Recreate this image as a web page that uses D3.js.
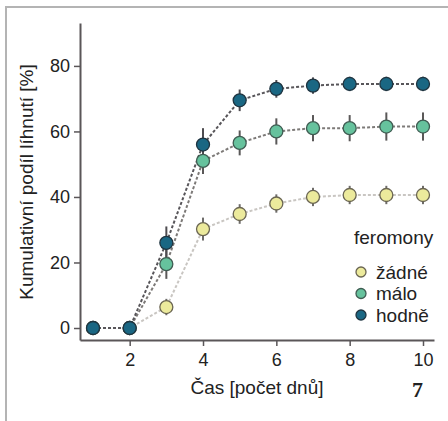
<!DOCTYPE html>
<html>
<head>
<meta charset="utf-8">
<script src="https://cdn.jsdelivr.net/npm/d3@7"></script>
<style>
  body { margin: 0; background: #fff; }
  text { font-family: "Liberation Sans", Arial, sans-serif; }
</style>
</head>
<body>
<div id="chart"></div>
<script>
const width = 448;
const height = 421;

// Data
const days = [1, 2, 3, 4, 5, 6, 7, 8, 9, 10];
const groups = ["žádné", "málo", "hodně"];
const zadne = [0, 0, 6.4, 30.2, 34.8, 38, 40, 40.6, 40.6, 40.6];
const zadneErr = [0, 0, 2.5, 3.5, 3, 2.8, 2.8, 2.8, 2.8, 2.8];
const malo = [0, 0, 19.5, 51, 56.5, 60, 61, 61, 61.5, 61.5];
const maloErr = [0, 0, 4.5, 4, 3.8, 4, 4, 4, 4.3, 4.3];
const hodne = [0, 0, 26, 56, 69.5, 73, 74, 74.5, 74.5, 74.5];
const hodneErr = [0, 0, 5, 5, 3.3, 2.7, 2.5, 2.2, 2.2, 2.2];
const yTicks = [0, 20, 40, 60, 80];
const xTicks = [2, 4, 6, 8, 10];

// Colors
const fills = ["#ecea9c", "#66c29d", "#1a6783"];
const lineColors = ["#c9c6c2", "#7d7a78", "#58565a"];
const barColors = ["#6e6c6a", "#5a5858", "#4e4c50"];
const strokes = ["#6a6552", "#3f5c52", "#1f3440"];
const axisColor = "#5a5658";

const series = [
  { name: groups[0], values: zadne, err: zadneErr },
  { name: groups[1], values: malo, err: maloErr },
  { name: groups[2], values: hodne, err: hodneErr }
];

// Scales
const x = d3.scaleLinear().domain([0.645, 10.3]).range([80, 434]);
const y = d3.scaleLinear().domain([-3.66, 93.1]).range([340, 23]);

const svg = d3.select("#chart").append("svg")
    .attr("width", width)
    .attr("height", height);

svg.append("rect").attr("width", width).attr("height", height).attr("fill", "#fff");

// frame
svg.append("path")
    .attr("d", "M6,421 V7 H448")
    .attr("fill", "none")
    .attr("stroke", "#b4b4b4")
    .attr("stroke-width", 2);

// Axes
const yAxis = svg.append("g")
    .attr("transform", "translate(80,0)")
    .call(d3.axisLeft(y).tickValues(yTicks).tickSize(6).tickPadding(4).tickSizeOuter(0));
const xAxis = svg.append("g")
    .attr("transform", "translate(0,340)")
    .call(d3.axisBottom(x).tickValues(xTicks).tickSize(6).tickPadding(7).tickSizeOuter(0));

[xAxis, yAxis].forEach(function (a) {
    a.select(".domain").attr("stroke", axisColor).attr("stroke-width", 2);
    a.selectAll(".tick line").attr("stroke", axisColor).attr("stroke-width", 1.5);
    a.selectAll(".tick text")
        .attr("fill", "#222")
        .style("font-size", "18px")
        .style("font-family", "Liberation Sans, Arial, sans-serif");
});

// Axis titles
svg.append("text")
    .attr("x", 257)
    .attr("y", 394)
    .attr("text-anchor", "middle")
    .attr("fill", "#222")
    .style("font-size", "19px")
    .text("Čas [počet dnů]");

svg.append("text")
    .attr("transform", "translate(33,182) rotate(-90)")
    .attr("text-anchor", "middle")
    .attr("fill", "#222")
    .style("font-size", "19px")
    .text("Kumulativní podíl líhnutí [%]");

svg.append("text")
    .attr("x", 423)
    .attr("y", 397)
    .attr("text-anchor", "end")
    .attr("fill", "#222")
    .style("font-size", "22px")
    .style("font-weight", "bold")
    .style("font-family", "Liberation Serif, serif")
    .text("7");

const line = d3.line()
    .x(function (d, i) { return x(days[i]); })
    .y(function (d) { return y(d); });

// Lines
series.forEach(function (s, k) {
    svg.append("path")
        .datum(s.values)
        .attr("d", line)
        .attr("fill", "none")
        .attr("stroke", lineColors[k])
        .attr("stroke-width", 2)
        .attr("stroke-dasharray", "3,2");
});

// Error bars and points
series.forEach(function (s, k) {
    svg.selectAll(".err" + k)
        .data(s.values)
        .enter()
        .append("line")
        .attr("x1", function (d, i) { return x(days[i]); })
        .attr("x2", function (d, i) { return x(days[i]); })
        .attr("y1", function (d, i) { return y(d - s.err[i]); })
        .attr("y2", function (d, i) { return y(d + s.err[i]); })
        .attr("stroke", barColors[k])
        .attr("stroke-width", 2);
});

series.forEach(function (s, k) {
    svg.selectAll(".pt" + k)
        .data(s.values)
        .enter()
        .append("circle")
        .attr("cx", function (d, i) { return x(days[i]); })
        .attr("cy", function (d) { return y(d); })
        .attr("r", 6.5)
        .attr("fill", fills[k])
        .attr("stroke", strokes[k])
        .attr("stroke-width", 1.3);
});

// Legend
svg.append("text")
    .attr("x", 354)
    .attr("y", 244)
    .attr("fill", "#222")
    .style("font-size", "19px")
    .text("feromony");

const legend = svg.selectAll(".legend")
    .data(groups)
    .enter()
    .append("g")
    .attr("transform", function (d, i) { return "translate(0," + (272 + i * 21.5) + ")"; });

legend.append("circle")
    .attr("cx", 361)
    .attr("cy", 0)
    .attr("r", 5)
    .attr("fill", function (d, i) { return fills[i]; })
    .attr("stroke", function (d, i) { return strokes[i]; })
    .attr("stroke-width", 1.3);

legend.append("text")
    .attr("x", 376)
    .attr("y", 6.5)
    .attr("fill", "#222")
    .style("font-size", "19px")
    .text(function (d) { return d; });
</script>
</body>
</html>
